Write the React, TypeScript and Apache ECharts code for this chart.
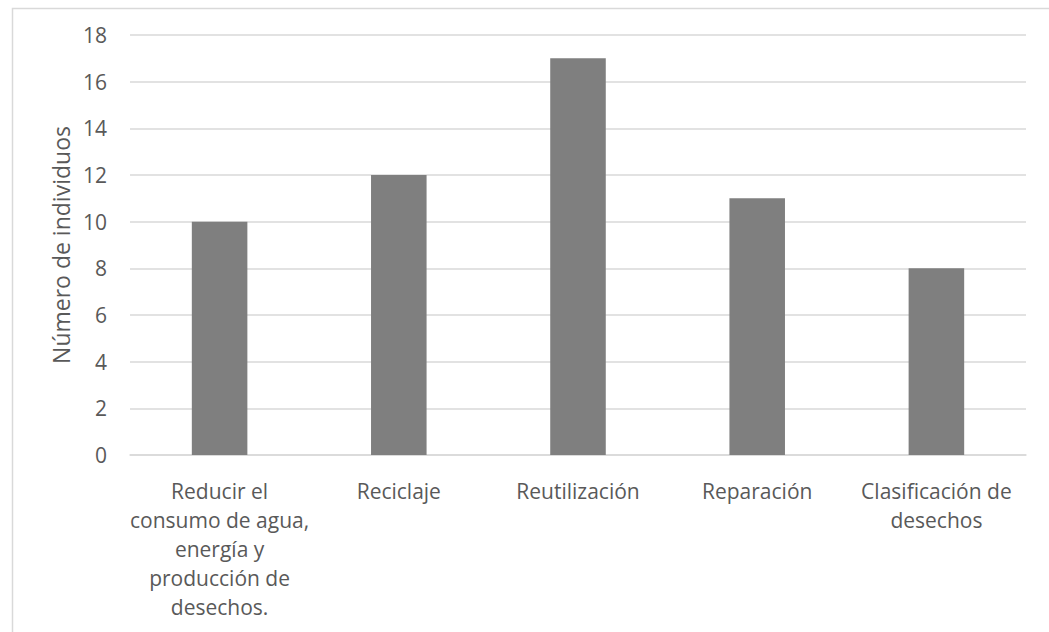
import React, { useEffect, useRef } from "react";
import * as echarts from "echarts";

const categories = [
  "Reducir el\nconsumo de agua,\nenergía y\nproducción de\ndesechos.",
  "Reciclaje",
  "Reutilización",
  "Reparación",
  "Clasificación de\ndesechos",
];
const values = [10, 12, 17, 11, 8];
const yTicks = { min: 0, max: 18, interval: 2 };
const yAxisTitle = "Número de individuos";

const FONT = "'Open Sans', 'Liberation Sans', sans-serif";
const TEXT = "#595959";
const GRID = "#d9d9d9";

export default function App() {
  const ref = useRef<HTMLDivElement>(null);
  useEffect(() => {
    if (!ref.current) return;
    const chart = echarts.init(ref.current, null, { renderer: "svg" });
    chart.setOption({
      animation: false,
      backgroundColor: "#ffffff",
      graphic: [
        {
          type: "rect",
          left: 10,
          top: 6,
          shape: { width: 1100, height: 700 },
          style: { fill: "none", stroke: GRID, lineWidth: 1.5 },
          silent: true,
        },
      ],
      grid: { left: 130, right: 23, top: 35, bottom: 177, containLabel: false },
      xAxis: {
        type: "category",
        data: categories,
        axisLine: { show: true, lineStyle: { color: GRID, width: 1.5 } },
        axisTick: { show: false },
        axisLabel: {
          color: TEXT,
          fontFamily: FONT,
          fontSize: 21,
          lineHeight: 29,
          margin: 21,
          interval: 0,
          align: "center",
        },
      },
      yAxis: {
        type: "value",
        min: yTicks.min,
        max: yTicks.max,
        interval: yTicks.interval,
        name: yAxisTitle,
        nameLocation: "middle",
        nameRotate: 90,
        nameGap: 56,
        nameTextStyle: { color: TEXT, fontFamily: FONT, fontSize: 23 },
        axisLine: { show: false },
        axisTick: { show: false },
        axisLabel: { color: TEXT, fontFamily: FONT, fontSize: 21, margin: 23 },
        splitLine: { lineStyle: { color: GRID, width: 1.5 } },
      },
      series: [
        {
          type: "bar",
          data: values,
          barWidth: "31%",
          itemStyle: { color: "#7f7f7f" },
        },
      ],
    });
    return () => chart.dispose();
  }, []);
  return (
    <div
      ref={ref}
      style={{ position: "fixed", left: 0, top: 0, width: 1049, height: 632, background: "#fff" }}
    />
  );
}
